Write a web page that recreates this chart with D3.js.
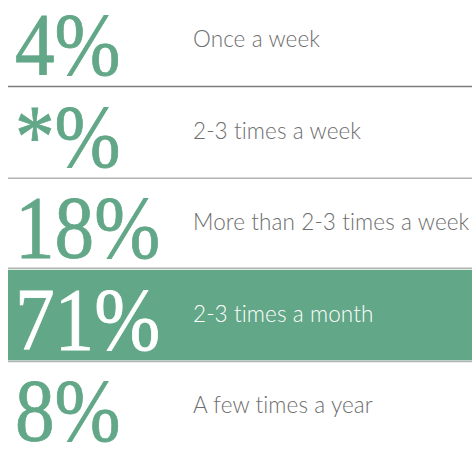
<!DOCTYPE html>
<html>
<head>
<meta charset="utf-8">
<script src="https://cdn.jsdelivr.net/npm/d3@7"></script>
<style>
  body { margin: 0; background: #fff; }
</style>
</head>
<body>
<svg id="canvas" width="472" height="467"></svg>
<script>
let categories = ['Once a week', '2-3 times a week', 'More than 2-3 times a week', '2-3 times a month', 'A few times a year'];
let values = ['4', '*', '18', '71', '8'];
let highlight = ['2-3 times a month'];

let green = '#62a787';
let canvas = d3.select('#canvas');

let y = d3.scaleBand()
	.domain(categories)
	.range([-5, 453]);

let rows = canvas
	.selectAll('g.row')
	.data(categories)
	.enter()
	.append('g')
	.attr('class', 'row')
	.attr('transform', (d) => 'translate(0,' + y(d) + ')');

// highlighted background
rows.filter((d) => highlight.includes(d))
	.append('rect')
	.attr('x', 8)
	.attr('y', 0)
	.attr('width', 464)
	.attr('height', y.step() - 1)
	.attr('fill', green);

// separator lines at the top of each row except the first
rows.filter((d, i) => i > 0)
	.append('line')
	.attr('x1', 8)
	.attr('x2', 472)
	.attr('y1', (d) => highlight.includes(d) ? -1.5 : 0)
	.attr('y2', (d) => highlight.includes(d) ? -1.5 : 0)
	.attr('stroke', (d, i) => i === 0 ? '#7d7d7d' : '#b3b3b3')
	.attr('stroke-width', 1.5);

// big numbers
let nums = rows.append('text')
	.attr('x', 15)
	.attr('y', 79)
	.attr('font-family', '"Liberation Serif", serif')
	.attr('font-size', 88)
	.attr('fill', (d) => highlight.includes(d) ? '#fff' : green)
	.attr('stroke', (d) => highlight.includes(d) ? '#fff' : green)
	.attr('stroke-width', 0.8)
	.text((d, i) => values[i] + '%');

nums.each(function() {
	let w = this.getComputedTextLength();
	d3.select(this)
		.attr('textLength', w * 0.9)
		.attr('lengthAdjust', 'spacingAndGlyphs');
});

// labels
rows.append('text')
	.attr('x', 193)
	.attr('y', 52)
	.attr('font-family', 'Lato, sans-serif')
	.attr('font-weight', 300)
	.attr('font-size', 22.5)
	.attr('letter-spacing', 0.1)
	.attr('fill', (d) => highlight.includes(d) ? '#fff' : '#6e6e6e')
	.text((d) => d);
</script>
</body>
</html>
